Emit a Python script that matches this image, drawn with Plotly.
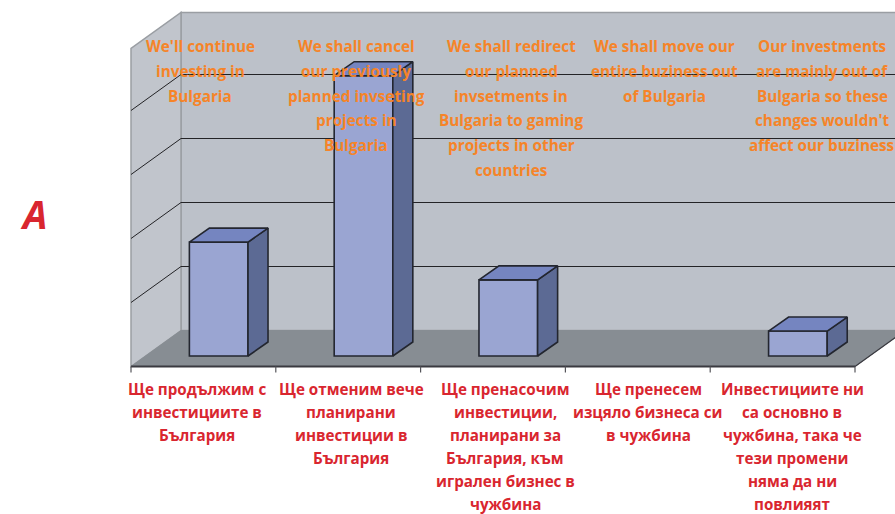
import plotly.graph_objects as go

# ---- data ----
categories = [0, 1, 2, 3, 4]
values = [17.8, 43.8, 11.9, 0, 3.9]
grid_values = [0, 10, 20, 30, 40, 50]
orange_labels = [
    ["We'll continue", "investing in", "Bulgaria"],
    ["We shall cancel", "our previously", "planned invseting", "projects in", "Bulgaria"],
    ["We shall redirect", "our planned", "invsetments in", "Bulgaria to gaming", "projects in other", "countries"],
    ["We shall move our", "entire buziness out", "of Bulgaria"],
    ["Our investments", "are mainly out of", "Bulgaria so these", "changes wouldn't", "affect our buziness"],
]
red_labels = [
    ["Ще продължим с", "инвестициите в", "България"],
    ["Ще отменим вече", "планирани", "инвестиции в", "България"],
    ["Ще пренасочим", "инвестиции,", "планирани за", "България, към", "игрален бизнес в", "чужбина"],
    ["Ще пренесем", "изцяло бизнеса си", "в чужбина"],
    ["Инвестициите ни", "са основно в", "чужбина, така че", "тези промени", "няма да ни", "повлияят"],
]
panel_letter = "A"

# ---- geometry / style ----
W, H = 895, 514
PX_X, PX_Y = 144.8, 6.4            # pixels per category, pixels per unit
X0_PX, Y0_PX = 131, 366.5          # left end of the front floor edge, zero line
x_min = -0.5 - X0_PX / PX_X
x_max = x_min + W / PX_X
y_max = Y0_PX / PX_Y
y_min = y_max - H / PX_Y
DX, DY = 50 / PX_X, 36 / PX_Y      # floor depth
FX, FY = 15.3 / PX_X, 10.5 / PX_Y  # bar front offset
BX, BY = 20 / PX_X, 14 / PX_Y      # bar depth
BAR_W = 0.405
LEFT, RIGHT, TOP = -0.5, 4.5, grid_values[-1] - 0.3

WALL, SIDE, FLOOR = "#BCC1C9", "#C1C5CC", "#878D93"
EDGE = "#9A9EA3"
GRID = "#232326"
FRONT, BSIDE, BTOP, OUT = "#9AA5D2", "#5C6A94", "#7585C0", "#23262F"
ORANGE, RED = "#F68428", "#D9262F"
FONT = "Open Sans"

def path(pts):
    return "M " + " L ".join(f"{x},{y}" for x, y in pts) + " Z"

def data_x(px):
    return x_min + px / PX_X

def data_y(py):
    return (Y0_PX - py) / PX_Y

shapes = [
    dict(type="path", path=path([(LEFT + DX, DY), (RIGHT + DX, DY), (RIGHT + DX, TOP + DY), (LEFT + DX, TOP + DY)]),
         fillcolor=WALL, line=dict(color=EDGE, width=1.5), layer="below"),
    dict(type="path", path=path([(LEFT, 0), (LEFT + DX, DY), (LEFT + DX, TOP + DY), (LEFT, TOP)]),
         fillcolor=SIDE, line=dict(color=EDGE, width=1.5), layer="below"),
    dict(type="path", path=path([(LEFT, 0), (RIGHT, 0), (RIGHT + DX, DY), (LEFT + DX, DY)]),
         fillcolor=FLOOR, line=dict(color=FLOOR, width=1), layer="below"),
]
for g in grid_values[1:-1]:
    shapes.append(dict(type="line", x0=LEFT, y0=g, x1=LEFT + DX, y1=g + DY, line=dict(color=GRID, width=1), layer="below"))
    shapes.append(dict(type="line", x0=LEFT + DX, y0=g + DY, x1=RIGHT + DX, y1=g + DY, line=dict(color=GRID, width=1), layer="below"))
shapes.append(dict(type="line", x0=LEFT, y0=0, x1=RIGHT, y1=0, line=dict(color="#3A3A40", width=2)))
shapes.append(dict(type="line", x0=RIGHT, y0=0, x1=RIGHT + DX, y1=DY, line=dict(color="#3A3A40", width=1.2)))
for i in range(len(categories) + 1):
    shapes.append(dict(type="line", x0=LEFT + i, y0=0, x1=LEFT + i, y1=-6 / PX_Y, line=dict(color="#55555A", width=1.2)))

fig = go.Figure()
vis_x = [c for c, v in zip(categories, values) if v > 0]
vis_v = [v for v in values if v > 0]
fig.add_trace(go.Bar(
    x=[c + FX for c in vis_x], y=vis_v, base=FY, width=BAR_W,
    marker=dict(color=FRONT, line=dict(color=OUT, width=1.6)), hoverinfo="skip"))

for c, v in zip(vis_x, vis_v):
    l = c + FX - BAR_W / 2
    r = c + FX + BAR_W / 2
    b = FY
    t = FY + v
    fig.add_trace(go.Scatter(
        x=[r, r + BX, r + BX, r, r], y=[b, b + BY, t + BY, t, b], mode="lines", fill="toself",
        fillcolor=BSIDE, line=dict(color=OUT, width=1.6), hoverinfo="skip"))
    fig.add_trace(go.Scatter(
        x=[l, r, r + BX, l + BX, l], y=[t, t, t + BY, t + BY, t], mode="lines", fill="toself",
        fillcolor=BTOP, line=dict(color=OUT, width=1.6), hoverinfo="skip"))

annotations = []
def add_lines(labels, centers_px, first_py, step, color, size):
    for lines, cx in zip(labels, centers_px):
        for n, s in enumerate(lines):
            annotations.append(dict(x=data_x(cx), y=data_y(first_py + n * step), xref="x", yref="y",
                                    text=s, showarrow=False, xanchor="center", yanchor="middle",
                                    font=dict(family=FONT, size=size, color=color, weight="bold")))

add_lines(orange_labels, [200, 356, 511, 664, 822], 46, 24.8, ORANGE, 15.3)
add_lines(red_labels, [197, 351, 505, 648, 792], 389, 23, RED, 15.2)
annotations.append(dict(x=data_x(33.5), y=data_y(213), xref="x", yref="y", text=f"<b><i>{panel_letter}</i></b>",
                        showarrow=False, font=dict(family=FONT, size=39, color=RED)))

fig.update_layout(
    width=W, height=H, margin=dict(l=0, r=0, t=0, b=0), autosize=False,
    paper_bgcolor="white", plot_bgcolor="white", showlegend=False,
    xaxis=dict(visible=False, range=[x_min, x_max]),
    yaxis=dict(visible=False, range=[y_min, y_max]),
    shapes=shapes, annotations=annotations)
fig.write_html("out.html", config=dict(displayModeBar=False),
               post_script="document.body.style.margin='0';document.body.style.overflow='hidden';")
